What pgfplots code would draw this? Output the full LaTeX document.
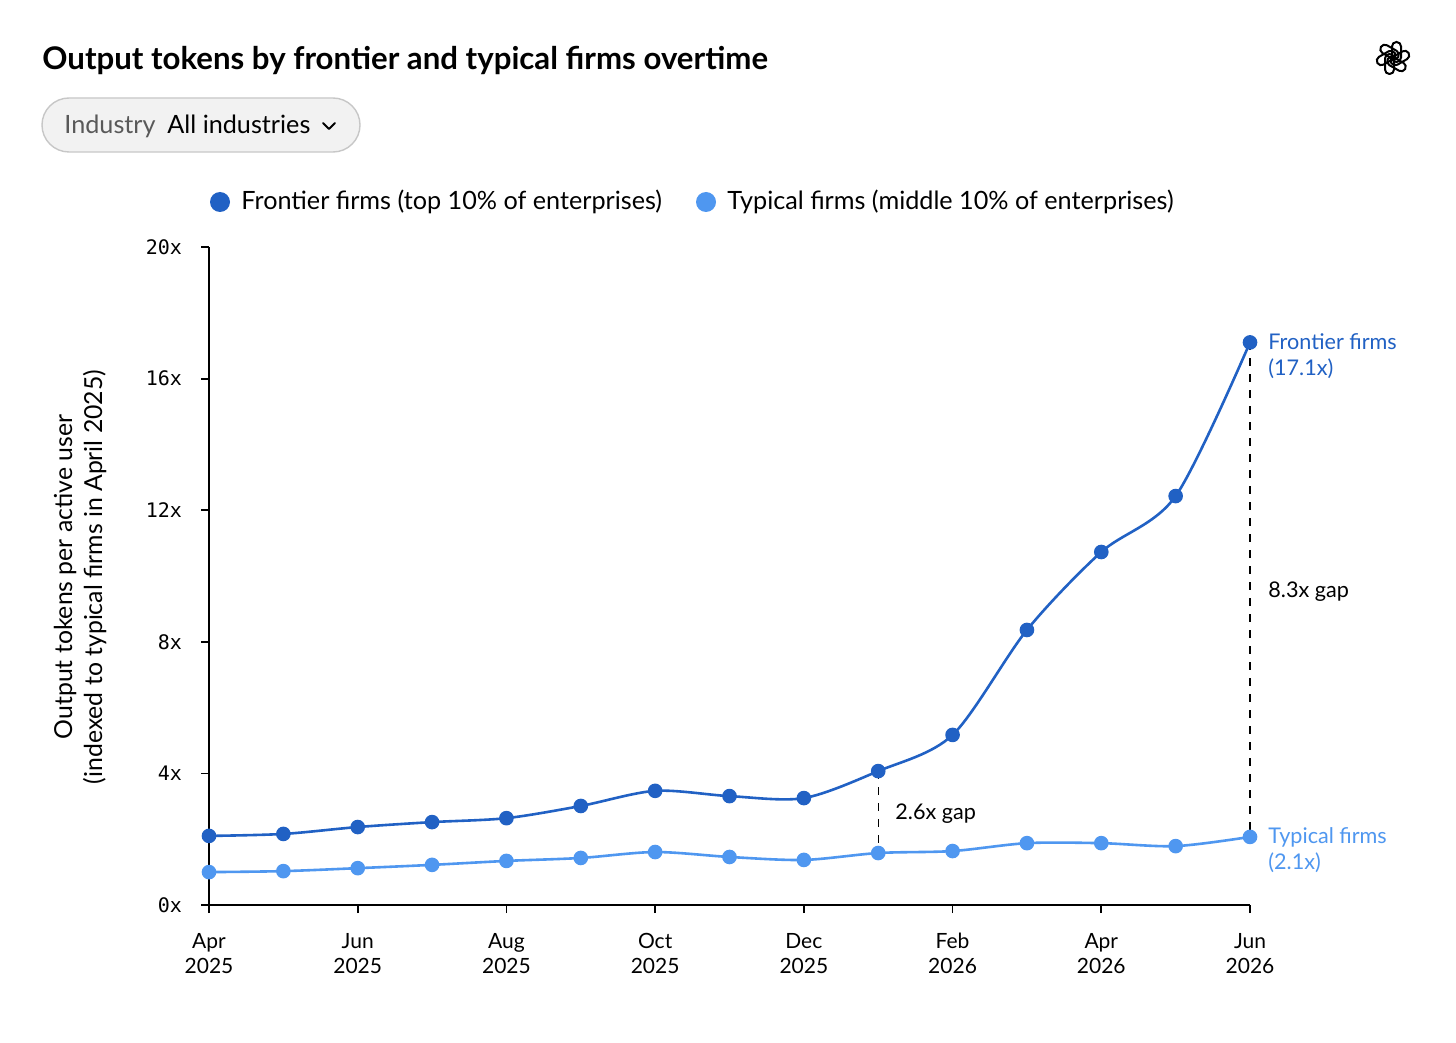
\documentclass[border=0pt]{standalone}
\usepackage{pgfplots}
\pgfplotsset{compat=1.18}
\usepackage{fontspec}
\setmainfont{Lato}
\newfontfamily\monofont{DejaVu Sans Mono}
\definecolor{front}{HTML}{2161C4}
\definecolor{typ}{HTML}{4F97F0}
\begin{document}
\begin{tikzpicture}[x=0.5pt,y=-0.5pt]
\useasboundingbox[fill=white] (0,0) rectangle (1456,1043);
% title
\node[anchor=base west, inner sep=0, font=\fontsize{15.6}{18}\selectfont\bfseries] at (42,70) {Output tokens by frontier and typical firms overtime};
% logo
\foreach \a in {0,60,...,300}{
  \draw[line width=1.0pt, rounded corners=2.2pt, rotate around={\a:(1393,58)}] (1392,42) rectangle (1401,62);
}
% dropdown
\draw[fill=black!5, draw=black!22, line width=0.7pt, rounded corners=13.5pt] (42,98) rectangle (360,152);
\node[anchor=base west, inner sep=0, font=\fontsize{12.6}{15}\selectfont, text=black!65] at (64,134) {Industry};
\node[anchor=base west, inner sep=0, font=\fontsize{12.6}{15}\selectfont] at (167,134) {All industries};
\draw[line width=0.9pt, line cap=round, line join=round] (323,123) -- (329,129) -- (335,123);
% legend
\fill[front] (220,202) circle (5pt);
\node[anchor=base west, inner sep=0, font=\fontsize{12.6}{15}\selectfont] at (241,210) {Frontier firms (top 10\% of enterprises)};
\fill[typ] (706,202) circle (5pt);
\node[anchor=base west, inner sep=0, font=\fontsize{12.6}{15}\selectfont] at (727,210) {Typical firms (middle 10\% of enterprises)};
% y label
\node[rotate=90, align=center, inner sep=0, font=\fontsize{12.4}{15}\selectfont] at (80,577) {Output tokens per active user\\(indexed to typical firms in April 2025)};
\begin{axis}[
  at={(104.5pt,-452.5pt)}, anchor=south west,
  scale only axis, width=520.5pt, height=329pt,
  xmin=0, xmax=14, ymin=0, ymax=20,
  axis lines*=left,
  axis line style={line width=0.9pt},
  tick align=outside, major tick length=4pt,
  tick style={black, line width=0.9pt},
  xtick={0,2,...,14},
  xticklabels={Apr\\2025,Jun\\2025,Aug\\2025,Oct\\2025,Dec\\2025,Feb\\2026,Apr\\2026,Jun\\2026},
  xticklabel style={align=center, font=\fontsize{10.5}{12.5}\selectfont, yshift=-6.5pt},
  ytick={0,4,...,20},
  yticklabels={0x,4x,8x,12x,16x,20x},
  yticklabel style={font=\monofont\fontsize{10}{12}\selectfont, xshift=-6pt},
  clip=false,
]
\addplot[front, line width=1.3pt, smooth, tension=0.5, mark=*, mark size=3pt, mark options={fill=front, draw=front}] coordinates {
(0,2.10) (1,2.16) (2,2.37) (3,2.52) (4,2.64) (5,3.01) (6,3.47) (7,3.31) (8,3.25) (9,4.07) (10,5.17) (11,8.36) (12,10.73) (13,12.43) (14,17.10)};
\addplot[typ, line width=1.3pt, smooth, tension=0.5, mark=*, mark size=3pt, mark options={fill=typ, draw=typ}] coordinates {
(0,1.00) (1,1.03) (2,1.12) (3,1.22) (4,1.34) (5,1.43) (6,1.61) (7,1.46) (8,1.37) (9,1.58) (10,1.64) (11,1.88) (12,1.88) (13,1.79) (14,2.07)};
\draw[black, dash pattern=on 4pt off 4pt, line width=0.7pt] (axis cs:9,4.07) -- (axis cs:9,1.58);
\draw[black, dash pattern=on 4pt off 4pt, line width=0.7pt] (axis cs:14,17.10) -- (axis cs:14,2.07);
\end{axis}
% annotations
\node[anchor=north west, align=left, inner sep=0, text=front, font=\fontsize{10.8}{13}\selectfont] at (1268,333) {Frontier firms\\(17.1x)};
\node[anchor=base west, inner sep=0, font=\fontsize{10.8}{13}\selectfont] at (1268,597) {8.3x gap};
\node[anchor=base west, inner sep=0, font=\fontsize{10.8}{13}\selectfont] at (895,819) {2.6x gap};
\node[anchor=north west, align=left, inner sep=0, text=typ, font=\fontsize{10.8}{13}\selectfont] at (1268,827) {Typical firms\\(2.1x)};
\end{tikzpicture}
\end{document}
